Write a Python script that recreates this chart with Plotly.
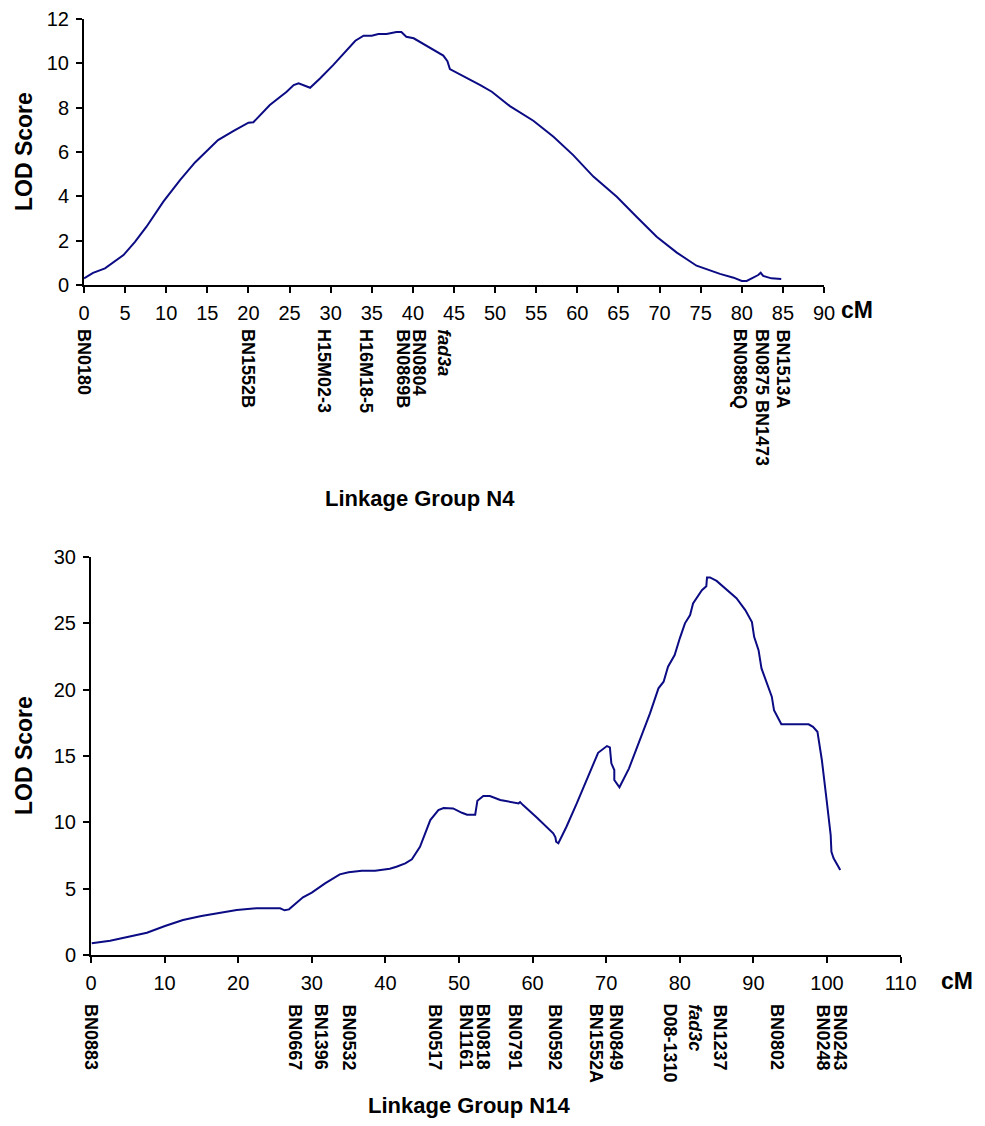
import plotly.graph_objects as go

# ---------------- Linkage Group N4 ----------------
n4_cM = [0, 1.1, 2.55, 4.8, 6.2, 7.6, 9.65, 11.7, 13.5, 16.3, 18.2, 20.0, 20.6, 22.6, 24.65,
         25.5, 26.1, 27.5, 28.7, 30.3, 33.0, 34.0, 35.0, 35.8, 36.8, 38.0, 38.6, 39.2, 40.1,
         42.6, 43.7, 44.2, 44.35, 44.5, 48.2, 49.6, 51.8, 54.65, 57.1, 59.5, 61.95, 64.8,
         67.2, 69.65, 72.1, 74.5, 77.35, 79.0, 80.0, 80.6, 82.0, 82.3, 82.6, 83.6, 84.8]
n4_lod = [0.30, 0.55, 0.75, 1.35, 1.95, 2.63, 3.76, 4.74, 5.53, 6.54, 6.95, 7.32, 7.34, 8.12, 8.72,
          9.02, 9.10, 8.90, 9.32, 9.92, 11.02, 11.25, 11.25, 11.32, 11.32, 11.41, 11.41, 11.2, 11.13,
          10.6, 10.35, 10.1, 9.85, 9.74, 9.02, 8.72, 8.07, 7.41, 6.69, 5.86, 4.89, 3.98,
          3.08, 2.18, 1.46, 0.87, 0.50, 0.33, 0.18, 0.18, 0.45, 0.55, 0.41, 0.30, 0.27]
n4_markers = ["BN0180", "BN1552B", "H15M02-3", "H16M18-5", "BN0869B", "BN0804", "<i>fad3a</i>",
              "BN0886Q", "BN0875 BN1473", "BN1513A"]
n4_marker_cM = [0, 19.9, 29.2, 34.3, 38.7, 40.7, 43.7, 79.8, 82.4, 84.9]
n4_xticks = list(range(0, 91, 5))
n4_yticks = list(range(0, 13, 2))

# ---------------- Linkage Group N14 ----------------
n14_cM = [0.1, 2.6, 5.1, 7.6, 10.05, 12.5, 15.0, 17.3, 19.8, 22.5, 25.7, 26.3, 26.9, 28.8, 30.0,
          31.8, 33.8, 35.0, 36.8, 38.6, 40.6, 41.5, 42.7, 43.6, 44.7, 46.1, 47.2, 47.9, 49.2,
          50.4, 51.1, 52.2, 52.3, 52.5, 52.5, 53.3, 54.2, 55.6, 58.1, 58.3, 58.7, 60.6, 62.8,
          63.1, 63.2, 63.5, 64.6, 66.0, 67.6, 68.9, 70.1, 70.5, 70.7, 71.1, 71.1, 71.8, 73.1,
          74.8, 75.95, 77.1, 77.8, 78.4, 79.3, 80.0, 80.7, 81.4, 81.8, 83.0, 83.6, 83.7, 84.1,
          85.0, 87.7, 88.9, 89.8, 90.1, 90.7, 91.1, 91.8, 92.5, 92.8, 93.8, 97.5, 98.1, 98.7,
          99.3, 99.95, 100.5, 100.6, 100.9, 101.8]
n14_lod = [0.88, 1.08, 1.38, 1.68, 2.19, 2.64, 2.94, 3.16, 3.39, 3.52, 3.52, 3.37, 3.44, 4.35, 4.70,
           5.40, 6.08, 6.23, 6.35, 6.35, 6.50, 6.65, 6.91, 7.21, 8.16, 10.17, 10.93, 11.08, 11.05,
           10.72, 10.57, 10.57, 10.93, 11.30, 11.63, 11.98, 11.98, 11.68, 11.43, 11.53, 11.30, 10.35, 9.17,
           8.87, 8.54, 8.42, 9.67, 11.43, 13.56, 15.24, 15.75, 15.65, 14.45, 13.94, 13.19, 12.64, 14.07,
           16.45, 18.21, 20.10, 20.60, 21.73, 22.61, 23.87, 25.0, 25.62, 26.5, 27.5, 27.8, 28.46, 28.46,
           28.2, 26.9, 26.0, 25.1, 23.98, 22.98, 21.6, 20.47, 19.47, 18.46, 17.39, 17.39, 17.2, 16.83,
           14.7, 11.68, 9.04, 7.78, 7.29, 6.4]
n14_markers = ["BN0883", "BN0667", "BN1396", "BN0532", "BN0517", "BN1161", "BN0818", "BN0791",
               "BN0592", "BN1552A", "BN0849", "D08-1310", "<i>fad3c</i>", "BN1237", "BN0802",
               "BN0248", "BN0243"]
n14_marker_cM = [0, 27.7, 31.3, 35.0, 46.7, 51.0, 53.3, 57.6, 63.0, 68.7, 71.3, 78.8, 82.1, 85.4,
                 93.2, 99.4, 101.7]
n14_xticks = list(range(0, 111, 10))
n14_yticks = list(range(0, 31, 5))

# page body has an 8 px margin, so the figure is shrunk and shifted accordingly
OFF = 8
W, H = 985 - 2 * OFF, 1126 - 2 * OFF
LINE = "#0b0b84"
FONT = "Liberation Sans, Arial, sans-serif"

fig = go.Figure()
fig.add_trace(go.Scatter(x=n4_cM, y=n4_lod, mode="lines", line=dict(color=LINE, width=2),
                         xaxis="x", yaxis="y", showlegend=False, hoverinfo="skip"))
fig.add_trace(go.Scatter(x=n14_cM, y=n14_lod, mode="lines", line=dict(color=LINE, width=2),
                         xaxis="x2", yaxis="y2", showlegend=False, hoverinfo="skip"))

def px_x(p):
    return (p - OFF) / W

def px_y(p):
    return 1 - (p - OFF) / H

axis_common = dict(showgrid=False, zeroline=False, showline=True, linecolor="black", linewidth=2,
                   ticks="outside", ticklen=6, tickwidth=2, tickcolor="black", automargin=False,
                   tickfont=dict(family=FONT, size=20, color="black"))

fig.update_layout(
    width=W, height=H, autosize=False,
    margin=dict(l=0, r=0, t=0, b=0, pad=0),
    paper_bgcolor="white", plot_bgcolor="white",
    xaxis=dict(domain=[px_x(84), px_x(824)], range=[0, 90], tickvals=n4_xticks,
               anchor="y", ticklabelstandoff=3, **axis_common),
    yaxis=dict(domain=[px_y(285), px_y(19)], range=[0, 12], tickvals=n4_yticks,
               anchor="x", ticklabelstandoff=3, **axis_common),
    xaxis2=dict(domain=[px_x(91), px_x(900.6)], range=[0, 110], tickvals=n14_xticks,
                anchor="y2", ticklabelstandoff=3, **axis_common),
    yaxis2=dict(domain=[px_y(955), px_y(557)], range=[0, 30], tickvals=n14_yticks,
                anchor="x2", ticklabelstandoff=3, **axis_common),
)

ann = []
mfont = dict(family=FONT, size=18, color="black")
for name, pos in zip(n4_markers, n4_marker_cM):
    ann.append(dict(x=pos, y=px_y(327), xref="x", yref="paper", text="<b>" + name + "</b>",
                    textangle=90, showarrow=False, xanchor="center", yanchor="top", font=mfont))
for name, pos in zip(n14_markers, n14_marker_cM):
    ann.append(dict(x=pos, y=px_y(1002), xref="x2", yref="paper", text="<b>" + name + "</b>",
                    textangle=90, showarrow=False, xanchor="center", yanchor="top", font=mfont))

tfont = dict(family=FONT, size=23, color="black")
# axis titles
ann.append(dict(x=px_x(24), y=px_y(152), xref="paper", yref="paper", text="<b>LOD Score</b>",
                textangle=-90, showarrow=False, xanchor="center", yanchor="middle", font=tfont))
ann.append(dict(x=px_x(24), y=px_y(756), xref="paper", yref="paper", text="<b>LOD Score</b>",
                textangle=-90, showarrow=False, xanchor="center", yanchor="middle", font=tfont))
ann.append(dict(x=px_x(857), y=px_y(310), xref="paper", yref="paper", text="<b>cM</b>",
                showarrow=False, xanchor="center", yanchor="middle", font=dict(family=FONT, size=23, color="black")))
ann.append(dict(x=px_x(957), y=px_y(981), xref="paper", yref="paper", text="<b>cM</b>",
                showarrow=False, xanchor="center", yanchor="middle", font=dict(family=FONT, size=23, color="black")))
# group titles
ann.append(dict(x=px_x(420), y=px_y(499), xref="paper", yref="paper", text="<b>Linkage Group N4</b>",
                showarrow=False, xanchor="center", yanchor="middle", font=dict(family=FONT, size=22, color="black")))
ann.append(dict(x=px_x(469), y=px_y(1105), xref="paper", yref="paper", text="<b>Linkage Group N14</b>",
                showarrow=False, xanchor="center", yanchor="middle", font=dict(family=FONT, size=22, color="black")))

fig.update_layout(annotations=ann)
fig.write_html("out.html")
